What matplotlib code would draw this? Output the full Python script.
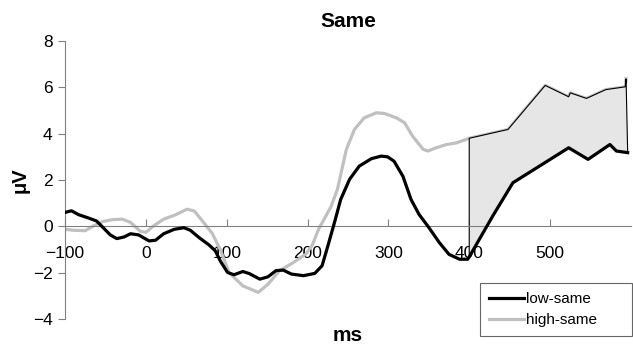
import matplotlib
matplotlib.use('Agg')
import matplotlib.pyplot as plt

plt.rcParams['font.family'] = ['Liberation Sans', 'DejaVu Sans']

# low-same (black), values
t_low = [-100, -92, -83, -71, -61, -53, -44, -36, -27, -19, -9, 4, 12, 22, 35, 47,
         55, 66, 78, 86, 92, 101, 109, 120, 128, 141, 151, 161, 170, 180, 195, 209,
         218, 226, 234, 241, 252, 264, 279, 291, 299, 307, 318, 328, 338, 349, 363,
         375, 388, 398, 400, 429, 454, 523, 547, 574, 582, 596]
v_low = [0.6, 0.67, 0.5, 0.36, 0.23, -0.05, -0.37, -0.53, -0.46, -0.32, -0.37, -0.63,
         -0.6, -0.32, -0.13, -0.06, -0.17, -0.49, -0.8, -1.06, -1.49, -1.99, -2.09,
         -1.95, -2.04, -2.28, -2.18, -1.91, -1.89, -2.06, -2.13, -2.03, -1.7, -0.74,
         0.25, 1.16, 2.03, 2.6, 2.92, 3.03, 3.0, 2.81, 2.16, 1.16, 0.51, 0.0, -0.7,
         -1.21, -1.42, -1.42, -1.32, 0.44, 1.88, 3.39, 2.89, 3.53, 3.25, 3.18]

# high-same (grey)
t_high = [-100, -89, -75, -64, -53, -41, -29, -19, -7, 0, 10, 22, 37, 51, 60, 70,
          82, 92, 103, 120, 139, 151, 165, 182, 198, 206, 214, 222, 229, 237, 248,
          258, 270, 285, 295, 310, 320, 330, 343, 349, 359, 372, 384, 400, 448, 494,
          523, 525, 545, 569, 593, 594]
v_high = [-0.13, -0.17, -0.19, 0.03, 0.21, 0.29, 0.31, 0.17, -0.21, -0.26, 0.03,
          0.31, 0.5, 0.74, 0.66, 0.23, -0.3, -1.0, -2.0, -2.57, -2.85, -2.5, -1.93,
          -1.57, -1.2, -0.8, -0.1, 0.4, 0.85, 1.6, 3.32, 4.18, 4.68, 4.9, 4.87, 4.68,
          4.47, 3.89, 3.32, 3.25, 3.39, 3.53, 3.6, 3.8, 4.18, 6.08, 5.59, 5.76, 5.52,
          5.9, 6.02, 6.37]

x_ticks = [-100, 0, 100, 200, 300, 400, 500]
y_ticks = [-4, -2, 0, 2, 4, 6, 8]
shade_from = 400

fig = plt.figure(figsize=(6.33, 3.48), dpi=100)
ax = fig.add_axes([0.1027, 0.0833, 0.894, 0.799])

# shaded window between the two curves
top = [(t, v) for t, v in zip(t_high, v_high) if t >= shade_from]
bot = [(t, v) for t, v in zip(t_low, v_low) if t >= shade_from]
poly = top + bot[::-1]
ax.fill([p[0] for p in poly], [p[1] for p in poly], facecolor='#e6e6e6',
        edgecolor='black', linewidth=0.8, zorder=3)

ax.plot(t_high, v_high, color='#c0c0c0', lw=2.3, label='high-same', zorder=2,
        solid_joinstyle='round')
ax.plot(t_low, v_low, color='black', lw=2.3, label='low-same', zorder=4,
        solid_joinstyle='round')

ax.set_xlim(-100, 600)
ax.set_ylim(-4, 8)
ax.set_xticks(x_ticks)
ax.set_yticks(y_ticks)

for s in ['top', 'right']:
    ax.spines[s].set_visible(False)
ax.spines['bottom'].set_position(('data', 0))
ax.spines['bottom'].set_color('#808080')
ax.spines['bottom'].set_zorder(3.5)
ax.spines['left'].set_color('#808080')
ax.tick_params(axis='x', direction='in', length=5, color='#808080', pad=14, labelsize=12.5)
ax.tick_params(axis='y', direction='out', length=5, color='#808080', pad=4, labelsize=12.5)

ax.set_title('Same', fontsize=15, fontweight='bold', pad=10)
ax.set_ylabel('μV', fontsize=14.5, fontweight='bold', labelpad=2)
fig.text(0.549, 0.035, 'ms', fontsize=15, fontweight='bold', ha='center', va='center')

h, l = ax.get_legend_handles_labels()
leg = ax.legend(h[::-1], l[::-1], loc='upper left',
                bbox_to_anchor=(0.758, 0.0, 0.24, 0.187), mode='expand',
                bbox_transform=fig.transFigure, fontsize=11, frameon=True,
                fancybox=False, edgecolor='#404040', handlelength=2.3,
                handletextpad=0.15, labelspacing=0.45, borderpad=0.6,
                borderaxespad=0)
leg.get_frame().set_linewidth(0.8)

fig.savefig('out.png', dpi=100)
